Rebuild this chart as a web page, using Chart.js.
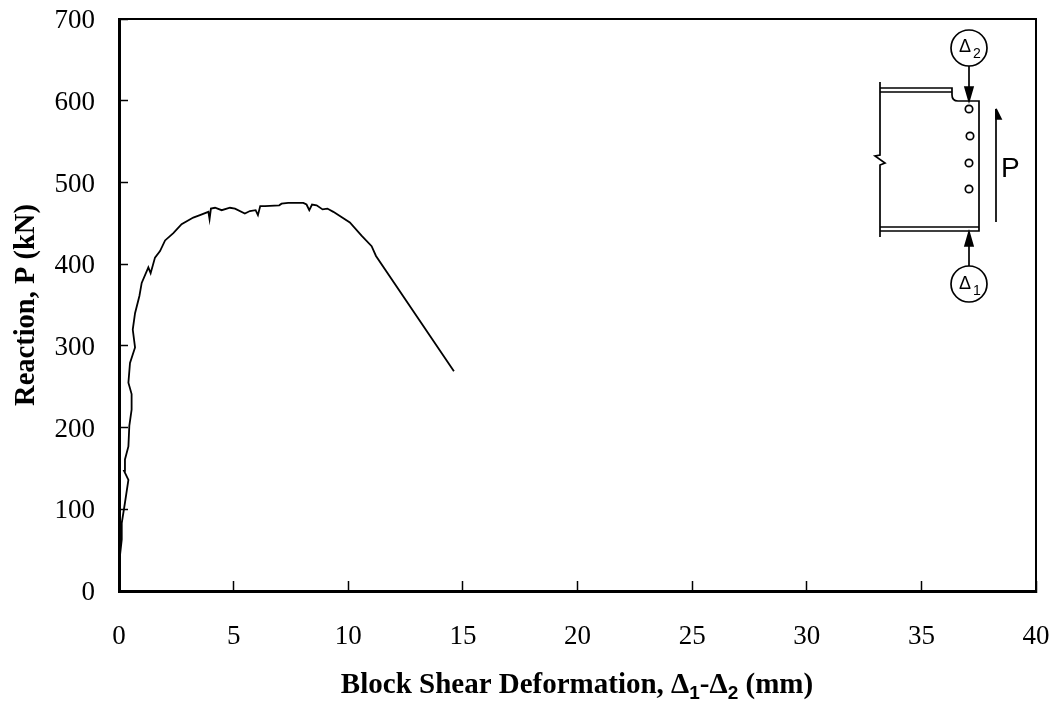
<!DOCTYPE html>
<html>
<head>
<meta charset="utf-8">
<title>Block shear response</title>
<script src="https://cdn.jsdelivr.net/npm/chart.js@4/dist/chart.umd.min.js"></script>
<style>
html, body { margin: 0; padding: 0; background: #fff; }
#wrap { position: relative; width: 1057px; height: 704px; overflow: hidden; }
#chart { position: absolute; left: 0; top: 0; }
#inset { position: absolute; left: 0; top: 0; }
</style>
</head>
<body>
<div id="wrap">
<canvas id="chart" width="1057" height="704"></canvas>
<svg id="inset" width="1057" height="704" fill="none" stroke="#000" stroke-width="1.7">
    <!-- beam section -->
    <path d="M880 82V155L875 156L885 163L880 165V237"/>
    <path d="M880 88H952V95Q952 101 958 101H979V231H880"/>
    <path d="M880 92H952M880 227H979"/>
    <circle cx="969" cy="109" r="3.7"/>
    <circle cx="970" cy="136" r="3.7"/>
    <circle cx="969" cy="163" r="3.7"/>
    <circle cx="969" cy="189" r="3.7"/>
    <!-- gauges -->
    <circle cx="969" cy="48" r="18"/>
    <path d="M969 66V90"/>
    <path d="M965 87H973L969 101Z" fill="#000"/>
    <circle cx="969" cy="284" r="18"/>
    <path d="M969 266V244"/>
    <path d="M965 246H973L969 232Z" fill="#000"/>
    <!-- load arrow -->
    <path d="M996 222V109"/>
    <path d="M996 109L1001 119H996Z" fill="#000"/>
    <g fill="#000" stroke="none" font-family="'Liberation Sans'">
        <text x="959" y="52" font-size="18">Δ</text>
        <text x="973" y="58" font-size="14">2</text>
        <text x="959" y="289" font-size="18">Δ</text>
        <text x="973" y="295" font-size="14">1</text>
        <text x="1001" y="177" font-size="28">P</text>
    </g>
</svg>
</div>
<script>
// curve
var deformation = [0, 0.01, 0.04, 0.12, 0.12, 0.26, 0.41, 0.22, 0.26, 0.41, 0.45, 0.55, 0.55, 0.41, 0.48,
    0.70, 0.60, 0.70, 0.89, 0.99, 1.28, 1.38, 1.57, 1.79, 2.01, 2.37, 2.73, 3.24, 3.53, 3.90, 3.95,
    4.01, 4.19, 4.48, 4.84, 5.06, 5.49, 5.71, 5.96, 6.06, 6.16, 6.37, 6.99, 7.09, 7.38, 8.04, 8.18,
    8.30, 8.42, 8.62, 8.88, 9.09, 9.35, 10.07, 10.58, 11.02, 11.21, 14.61];
var reaction = [0, 8, 39, 63, 83, 108, 136, 147, 161, 177, 202, 222, 241, 255, 279,
    298, 320, 340, 361, 377, 396, 389, 408, 416, 429, 438, 449, 457, 460, 464, 455,
    468, 469, 466, 469, 468, 462, 465, 466, 460, 471, 471, 472, 474, 475, 475, 473,
    466, 473, 472, 467, 468, 464, 451, 435, 422, 410, 269];

var serif = "'Liberation Serif'";

// frame on top and right, bold x title with subscripts
var framePlugin = {
    id: 'frame',
    afterDraw: function(chart) {
        var c = chart.ctx, a = chart.chartArea;
        c.save();
        c.strokeStyle = '#000';
        c.lineWidth = 2;
        c.beginPath();
        c.moveTo(a.left, a.top);
        c.lineTo(a.right, a.top);
        c.lineTo(a.right, a.bottom);
        c.stroke();

        var parts = [
            ['Block Shear Deformation, ', "bold 29px " + serif, 0],
            ['Δ', "bold 29px " + serif, 0],
            ['1', "bold 19px 'Liberation Sans'", 6],
            ['-', "bold 29px " + serif, 0],
            ['Δ', "bold 29px " + serif, 0],
            ['2', "bold 19px 'Liberation Sans'", 6],
            [' (mm)', "bold 29px " + serif, 0]
        ];
        var total = 0;
        parts.forEach(function(p) { c.font = p[1]; total += c.measureText(p[0]).width; });
        var x = 577 - total / 2;
        c.fillStyle = '#000';
        c.textBaseline = 'alphabetic';
        c.textAlign = 'left';
        parts.forEach(function(p) {
            c.font = p[1];
            c.fillText(p[0], x, 693 + p[2]);
            x += c.measureText(p[0]).width;
        });
        c.restore();
    }
};

var chart = new Chart(document.getElementById('chart'), {
    type: 'scatter',
    data: {
        datasets: [{
            data: deformation.map(function(d, i) { return {x: d, y: reaction[i]}; }),
            showLine: true,
            borderColor: '#000',
            borderWidth: 1.8,
            pointRadius: 0,
            tension: 0
        }]
    },
    options: {
        responsive: false,
        animation: false,
        layout: {padding: {top: 19, right: 21, left: 0, bottom: 0}},
        plugins: {legend: {display: false}, tooltip: {enabled: false}},
        scales: {
            x: {
                type: 'linear', min: 0, max: 40,
                afterFit: function(s) { s.height = 113; s.paddingLeft = 0; s.paddingRight = 0; },
                ticks: {stepSize: 5, color: '#000', font: {family: serif, size: 27}, padding: 40, maxRotation: 0},
                grid: {drawOnChartArea: false, tickLength: -10, tickColor: '#000', tickWidth: 1.5},
                border: {color: '#000', width: 3}
            },
            y: {
                type: 'linear', min: 0, max: 700,
                afterFit: function(s) { s.width = 119; s.paddingTop = 0; s.paddingBottom = 0; },
                ticks: {stepSize: 100, color: '#000', font: {family: serif, size: 27}, padding: 33, labelOffset: 2},
                grid: {drawOnChartArea: false, tickLength: -9, tickColor: '#000', tickWidth: 1.5},
                border: {color: '#000', width: 3},
                title: {display: true, text: 'Reaction, P (kN)', color: '#000', font: {family: serif, size: 28.5, weight: 'bold'}, padding: {top: 10, bottom: 0}}
            }
        }
    },
    plugins: [framePlugin]
});
</script>
</body>
</html>
